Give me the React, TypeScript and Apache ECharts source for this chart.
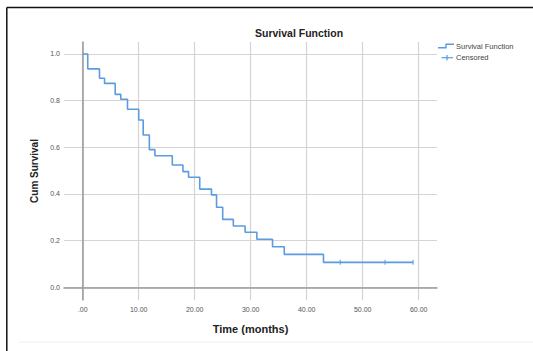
import React, { useEffect, useRef } from "react";
import * as echarts from "echarts";

const times = [0, 0.9, 3.0, 3.9, 5.8, 6.8, 8.0, 10.0, 10.8, 11.9, 12.9, 16.0, 17.9, 18.9, 20.9, 23.0, 23.9, 25.0, 26.9, 29.0, 31.1, 33.9, 36.0, 43.0];
const survival = [1.0, 0.936, 0.896, 0.874, 0.827, 0.806, 0.763, 0.717, 0.653, 0.59, 0.564, 0.524, 0.496, 0.472, 0.421, 0.396, 0.343, 0.291, 0.263, 0.236, 0.206, 0.174, 0.141, 0.107];
const lastTime = 59.0;
const censoredTimes = [46, 54, 59];
const xTicks = [0, 10, 20, 30, 40, 50, 60];
const yTicks = [0, 0.2, 0.4, 0.6, 0.8, 1.0];

const FONT = "Liberation Sans, Arial, sans-serif";
const BLUE = "#5b9be0";

function survAt(t: number): number {
  let s = survival[0];
  for (let i = 0; i < times.length; i++) if (times[i] <= t) s = survival[i];
  return s;
}

export default function App() {
  const ref = useRef<HTMLDivElement>(null);
  useEffect(() => {
    document.body.style.margin = "0";
    const chart = echarts.init(ref.current!, null, { renderer: "svg" });
    const stairs: number[][] = [];
    for (let i = 0; i < times.length; i++) {
      if (i > 0) stairs.push([times[i], survival[i - 1]]);
      stairs.push([times[i], survival[i]]);
    }
    stairs.push([lastTime, survival[survival.length - 1]]);
    const censored = censoredTimes.map((t) => [t, survAt(t)]);

    chart.setOption({
      animation: false,
      backgroundColor: "#ffffff",
      textStyle: { fontFamily: FONT },
      grid: { left: 64, top: 42, width: 373, height: 258, containLabel: false },
      xAxis: {
        type: "value",
        min: -3.34,
        max: 63.27,
        name: "Time (months)",
        nameLocation: "middle",
        nameGap: 23,
        nameTextStyle: { fontFamily: FONT, fontSize: 11, fontWeight: "bold", color: "#222" },
        axisLine: { show: true, lineStyle: { color: "#9a9a9a", width: 1.5 } },
        axisTick: { show: false, customValues: xTicks },
        axisLabel: {
          customValues: xTicks,
          fontSize: 7,
          color: "#555",
          margin: 6,
          fontFamily: FONT,
          formatter: (v: number) => (v === 0 ? ".00" : v.toFixed(2)),
        },
        splitLine: { show: true, lineStyle: { color: "#d4d4d4", width: 1.2 } },
      },
      yAxis: {
        type: "value",
        min: -0.0544,
        max: 1.0514,
        name: "Cum Survival",
        nameLocation: "middle",
        nameGap: 24,
        nameRotate: 90,
        nameTextStyle: { fontFamily: FONT, fontSize: 10, fontWeight: "bold", color: "#222" },
        axisLine: { show: true, lineStyle: { color: "#9a9a9a", width: 1.5 } },
        axisTick: { show: false, customValues: yTicks },
        axisLabel: {
          customValues: yTicks,
          fontSize: 7,
          color: "#555",
          margin: 4,
          fontFamily: FONT,
          formatter: (v: number) => v.toFixed(1),
        },
        splitLine: { show: true, lineStyle: { color: "#d4d4d4", width: 1.2 } },
      },
      series: [
        {
          type: "line",
          name: "Survival Function",
          data: stairs,
          showSymbol: false,
          lineStyle: { color: BLUE, width: 1.6 },
          z: 3,
        },
        {
          type: "scatter",
          name: "Censored",
          data: censored,
          symbol: "rect",
          symbolSize: [1.3, 5],
          itemStyle: { color: BLUE },
          z: 4,
        },
      ],
      graphic: [
        {
          type: "text",
          left: 255,
          top: 27,
          style: { text: "Survival Function", fontFamily: FONT, fontSize: 10.5, fontWeight: "bold", fill: "#222" },
        },
        {
          type: "polyline",
          shape: { points: [[438, 47.7], [446, 47.7], [446, 44.3], [454, 44.3]] },
          style: { stroke: BLUE, lineWidth: 1.4, fill: "none" },
        },
        {
          type: "text",
          x: 456,
          y: 46.5,
          style: { text: "Survival Function", fontFamily: FONT, fontSize: 7.5, fill: "#444", verticalAlign: "middle" },
        },
        {
          type: "line",
          shape: { x1: 441.5, y1: 57.7, x2: 453, y2: 57.7 },
          style: { stroke: BLUE, lineWidth: 1.2 },
        },
        {
          type: "line",
          shape: { x1: 447, y1: 55, x2: 447, y2: 60.5 },
          style: { stroke: BLUE, lineWidth: 1.2 },
        },
        {
          type: "text",
          x: 456,
          y: 57.7,
          style: { text: "Censored", fontFamily: FONT, fontSize: 7.5, fill: "#444", verticalAlign: "middle" },
        },
        {
          type: "line",
          shape: { x1: 6.8, y1: 7.5, x2: 540, y2: 7.5 },
          style: { stroke: "#111", lineWidth: 1.5 },
        },
        {
          type: "line",
          shape: { x1: 6.8, y1: 7.5, x2: 6.8, y2: 360 },
          style: { stroke: "#111", lineWidth: 1.5 },
        },
        {
          type: "line",
          shape: { x1: 19, y1: 342, x2: 540, y2: 342 },
          style: { stroke: "#efefef", lineWidth: 1 },
        },
      ],
    });
    return () => chart.dispose();
  }, []);
  return (
    <div
      ref={ref}
      style={{ position: "fixed", left: 0, top: 0, width: 533, height: 351, background: "#fff" }}
    />
  );
}
